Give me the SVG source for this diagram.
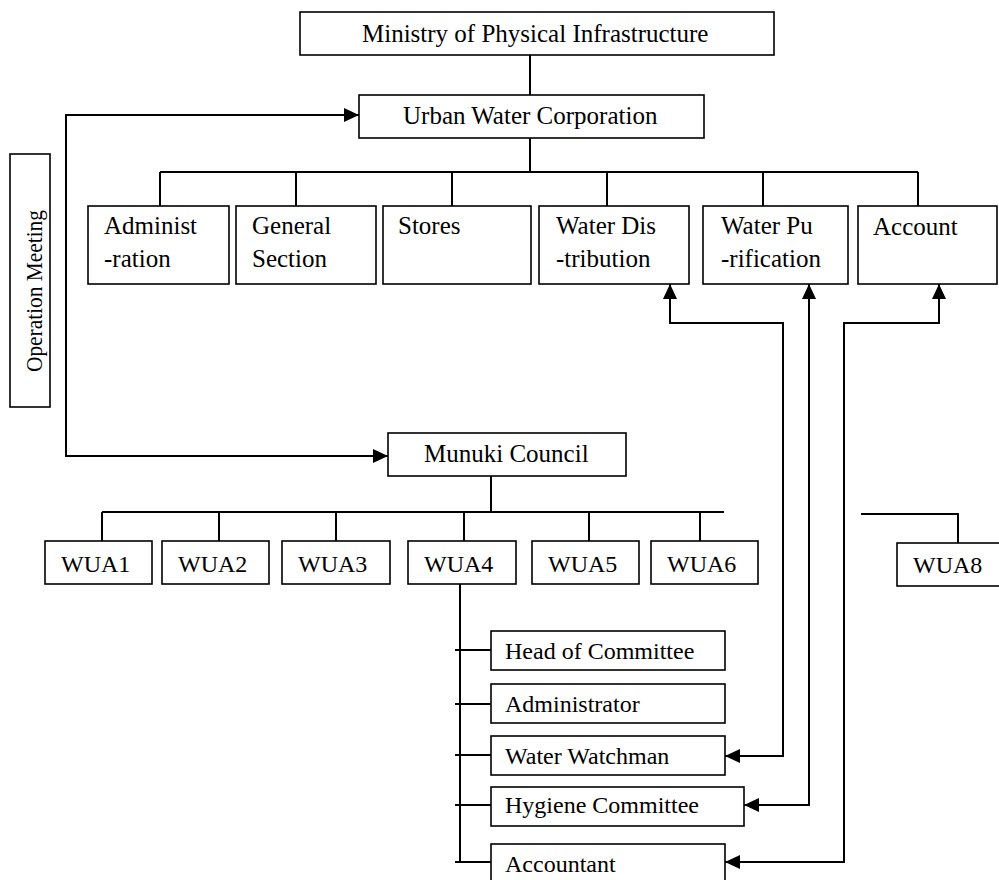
<svg xmlns="http://www.w3.org/2000/svg" width="999" height="880" viewBox="0 0 999 880">
<style>
rect{fill:#fff;stroke:#000;stroke-width:1.6}
text{font-family:"Liberation Serif","Times New Roman",serif;font-size:25px;fill:#000}
text.s{font-size:24px}
.c path,.c line{fill:none;stroke:#000;stroke-width:2}
</style>
<defs>
<marker id="ah" viewBox="0 0 15 14" refX="15" refY="7" markerWidth="15" markerHeight="14" markerUnits="userSpaceOnUse" orient="auto-start-reverse">
<path d="M0,0 L15,7 L0,14 z" fill="#000"/>
</marker>
</defs>
<g class="c" id="connectors">
<path d="M530,55 V95"/>
<path d="M530,138 V172"/>
<path d="M160,172 H918"/>
<path d="M160,172 V206 M296,172 V206 M452,172 V206 M607,172 V206 M763,172 V206 M918,172 V206"/>
<path d="M491,476 V513"/>
<path d="M102,512 H724"/>
<path d="M102,512 V541 M219,512 V541 M336,512 V541 M464,512 V541 M589,512 V541 M700,512 V541"/>
<path d="M861,514 H958 V543"/>
<path d="M460,584 V862"/>
<path d="M455,650 H491 M455,704 H491 M455,755 H491 M455,805 H491 M455,862 H491"/>
<path d="M359,115 H66 V456 H388" marker-start="url(#ah)" marker-end="url(#ah)"/>
<path d="M670,284 V323 H783 V756 H725" marker-start="url(#ah)" marker-end="url(#ah)"/>
<path d="M809,284 V805 H744" marker-start="url(#ah)" marker-end="url(#ah)"/>
<path d="M939,284 V323 H844 V862 H725" marker-start="url(#ah)" marker-end="url(#ah)"/>
</g>
<g id="ministry"><rect x="300" y="12" width="474" height="43"/><text x="362" y="42">Ministry of Physical Infrastructure</text></g>
<g id="urban"><rect x="359" y="95" width="345" height="43"/><text x="403" y="124">Urban Water Corporation</text></g>
<g id="operation"><rect x="10" y="154" width="40" height="253"/><text class="s" x="0" y="0" textLength="162" lengthAdjust="spacingAndGlyphs" transform="translate(42,372) rotate(-90)">Operation Meeting</text></g>
<g id="administration"><rect x="88" y="206" width="141" height="78"/><text x="104" y="234">Administ</text><text x="104" y="267">-ration</text></g>
<g id="general"><rect x="236" y="206" width="140" height="78"/><text x="252" y="234">General</text><text x="252" y="267">Section</text></g>
<g id="stores"><rect x="383" y="206" width="148" height="78"/><text x="398" y="234">Stores</text></g>
<g id="waterdis"><rect x="539" y="206" width="150" height="78"/><text x="556" y="234">Water Dis</text><text x="556" y="267">-tribution</text></g>
<g id="waterpu"><rect x="703" y="206" width="145" height="78"/><text x="721" y="234">Water Pu</text><text x="721" y="267">-rification</text></g>
<g id="account"><rect x="858" y="206" width="139" height="78"/><text x="873" y="235">Account</text></g>
<g id="munuki"><rect x="388" y="433" width="238" height="43"/><text x="424" y="462">Munuki Council</text></g>
<g id="wua1"><rect x="45" y="541" width="107" height="43"/><text class="s" x="61" y="572">WUA1</text></g>
<g id="wua2"><rect x="162" y="541" width="107" height="43"/><text class="s" x="178" y="572">WUA2</text></g>
<g id="wua3"><rect x="282" y="541" width="108" height="43"/><text class="s" x="298" y="572">WUA3</text></g>
<g id="wua4"><rect x="408" y="541" width="108" height="43"/><text class="s" x="424" y="572">WUA4</text></g>
<g id="wua5"><rect x="532" y="541" width="107" height="43"/><text class="s" x="548" y="572">WUA5</text></g>
<g id="wua6"><rect x="651" y="541" width="107" height="43"/><text class="s" x="667" y="572">WUA6</text></g>
<g id="wua8"><rect x="897" y="543" width="120" height="43"/><text class="s" x="913" y="573">WUA8</text></g>
<g id="head"><rect x="491" y="631" width="234" height="39"/><text class="s" x="505" y="659">Head of Committee</text></g>
<g id="administrator"><rect x="491" y="684" width="234" height="39"/><text class="s" x="505" y="712">Administrator</text></g>
<g id="watchman"><rect x="491" y="736" width="234" height="39"/><text class="s" x="505" y="764">Water Watchman</text></g>
<g id="hygiene"><rect x="491" y="787" width="253" height="39"/><text class="s" x="505" y="813">Hygiene Committee</text></g>
<g id="accountant"><rect x="491" y="844" width="234" height="40"/><text class="s" x="505" y="872">Accountant</text></g>
</svg>
